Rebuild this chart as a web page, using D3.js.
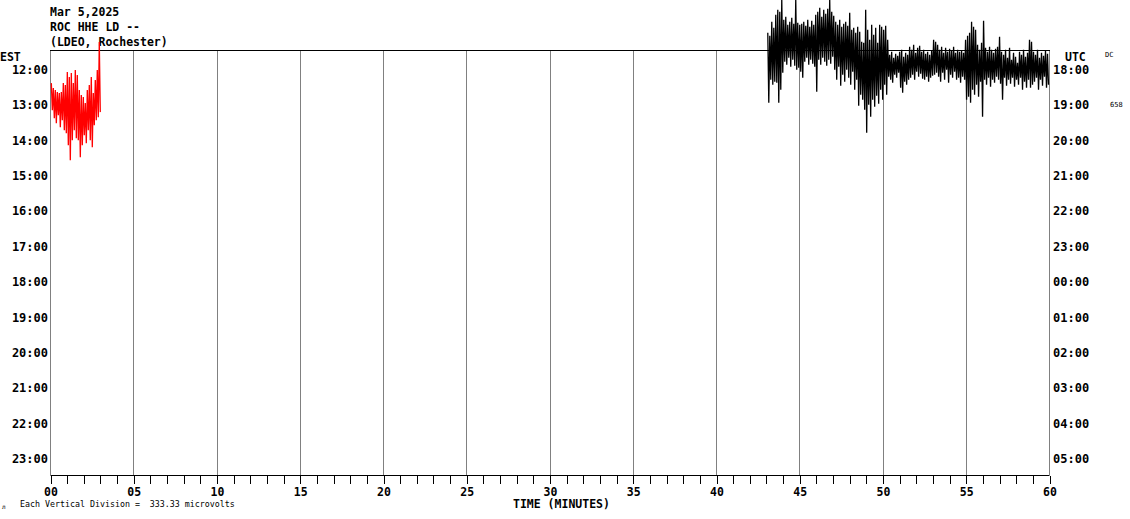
<!DOCTYPE html>
<html>
<head>
<meta charset="utf-8">
<script src="https://cdn.jsdelivr.net/npm/d3@7"></script>
<style>
  body { margin: 0; background: #fff; }
  svg { display: block; }
  text { font-family: "DejaVu Sans Mono", monospace; }
</style>
</head>
<body>
<div id="heli"></div>
<script>
// station info
const headerLines = ["Mar 5,2025", "ROC HHE LD --", "(LDEO, Rochester)"];
const estHours = ["12:00", "13:00", "14:00", "15:00", "16:00", "17:00", "18:00", "19:00", "20:00", "21:00", "22:00", "23:00"];
const utcHours = ["18:00", "19:00", "20:00", "21:00", "22:00", "23:00", "00:00", "01:00", "02:00", "03:00", "04:00", "05:00"];
const minuteTicks = ["00", "05", "10", "15", "20", "25", "30", "35", "40", "45", "50", "55", "60"];

// trace samples (counts from row baseline), 3.6 s per sample
const countsPerDivision = 354;
const sampleMinutes = 0.06;

// row 0 (12:00 EST), from 43.08 min
const trace0Row = 0;
const trace0Start = 43.08;
const trace0 = [
  350, -350, 320, -120, 460, -170, 400, -140, 530, -150, 580, -350, 560, -220, 680, -50,
  480, 60, 510, 30, 430, 100, 460, 10, 500, 80, 440, 20, 680, -20, 450, 0, 430, -40,
  440, -100, 460, 60, 420, 100, 480, 30, 410, 80, 470, 40, 430,
  10, 530, -240, 560, 80, 600, 30, 510, 100, 580, 60, 540, 20, 590, 80, 680, 40, 560, 110, 520,
  -20, 460, -120, 430, 10, 480, -180, 410, -70, 440, -140, 460, -20, 420,
  -100, 550, -170, 380, -40, 400, -220, 350, -120, 410, -380, 360, -270,
  260, -320, 250, -420, 580, -650,
  380, -370, 280, -490, 430, -320, 330, -390, 400, -280, 250, -360,
  430, -220, 410, -320, 380, -170, 420, -270, 280, -90,
  130, -120, 160, -150, 100, -70, 140, -100, 120, -50,
  160, -200, 180, -250, 110, -140, 150, -170, 130, -120,
  210, -100, 180, -70, 230, -120, 150, -40, 200, -90, 220, -60, 160, -110,
  180, -120, 140, -90, 160, -140, 130, -100, 170, -80,
  280, -70, 260, -50, 230, -90,
  180, -140, 210, -50, 150, -120, 200, -20, 160, -150, 190, -70, 170, -100, 210, -40, 150,
  -120, 180, -100, 160, -150, 170, -90, 150, -120, 280,
  -320, 320, -290, 350, -350, 460, -220, 410, -270, 380,
  -170, 230, -290, 180, -140, 250, -490, 470,
  -120, 200, -170, 160, -100, 210, -190, 180, -120, 150, -150, 190, -90, 210,
  -120, 310, -160, 160, -320, 130, -100, 180, -180, 100, -120, 200, -160, 80, -100, 150, -190, 110, -120, 50,
  -170, 160, -100, 130, -220, 180, -140, 110, -200, 150,
  -120, 280, -200, 260, -170,
  160, -140, 130, -100, 180, -220, 100, -120, 150, -180, 120, -90, 170, -200, 140, -170
];

// row 1 (13:00 EST), from 0.05 min
const trace1Row = 1;
const trace1Start = 0.05;
const trace1 = [
  200, -70, 150, -150, 130, -200, 110, -120, 100, -240, 110, -170, 200, -270, 180, -300,
  310, -420, 260, -570, 300, -370, 200, -270, 330, -350, 280, -370, 130, -540, 80, -420,
  60, -320, 0, -400, 130, -270, 180, -370, 260, -440, 100, -220, 230, -170, 330, -140, 610, -90
];

const W = 1130, H = 519;
const plotLeft = 50, plotRight = 1049, plotTop = 50, plotBottom = 475;

const svg = d3.select("#heli").append("svg")
  .attr("width", W)
  .attr("height", H);

const x = d3.scaleLinear().domain([0, 60]).range([plotLeft + 0.5, plotRight + 0.5]);
const row = d3.scaleLinear().domain([0, estHours.length]).range([plotTop, plotBottom]);
const rowHeight = row(1) - row(0);
const amp = d3.scaleLinear().domain([0, countsPerDivision]).range([0, rowHeight]);

// gridlines every 5 minutes
svg.append("g")
  .selectAll("line")
  .data(d3.range(0, 61, 5))
  .enter().append("line")
  .attr("x1", d => x(d)).attr("x2", d => x(d))
  .attr("y1", plotTop).attr("y2", plotBottom)
  .attr("stroke", "#808080")
  .attr("shape-rendering", "crispEdges");

// bottom axis
const axis = svg.append("g")
  .attr("transform", "translate(0," + (plotBottom + 0.5) + ")")
  .call(d3.axisBottom(x)
    .tickValues(d3.range(0, 61, 1))
    .tickSize(8)
    .tickFormat(d => d % 5 === 0 ? minuteTicks[d / 5] : ""));
axis.attr("font-family", null).attr("font-size", null);
axis.select(".domain").attr("stroke", "#000").attr("d", "M" + x(0) + ",0H" + x(60));
axis.selectAll(".tick line").attr("stroke", "#000").attr("shape-rendering", "crispEdges");
axis.selectAll(".tick text")
  .attr("y", 12)
  .attr("font-size", "11.5px")
  .attr("font-weight", "bold")
  .attr("fill", "#000");

// top line
svg.append("line")
  .attr("x1", plotLeft).attr("x2", plotRight + 1)
  .attr("y1", plotTop + 0.5).attr("y2", plotTop + 0.5)
  .attr("stroke", "#000")
  .attr("shape-rendering", "crispEdges");

// hour labels
svg.append("g").selectAll("text")
  .data(estHours)
  .enter().append("text")
  .attr("x", plotLeft - 2)
  .attr("y", (d, i) => row(i + 0.5) + 6)
  .attr("text-anchor", "end")
  .attr("font-size", "12px")
  .attr("font-weight", "bold")
  .text(d => d);

svg.append("g").selectAll("text")
  .data(utcHours)
  .enter().append("text")
  .attr("x", plotRight + 4)
  .attr("y", (d, i) => row(i + 0.5) + 6)
  .attr("font-size", "12px")
  .attr("font-weight", "bold")
  .text(d => d);

svg.append("text").attr("x", 0).attr("y", 61)
  .attr("font-size", "11.5px").attr("font-weight", "bold").text("EST");
svg.append("text").attr("x", 1065).attr("y", 61)
  .attr("font-size", "11.5px").attr("font-weight", "bold").text("UTC");
svg.append("text").attr("x", 1105).attr("y", 57)
  .attr("font-size", "7px").attr("fill", "#000").text("DC");
svg.append("text").attr("x", 1110).attr("y", 107)
  .attr("font-size", "7px").attr("fill", "#000").text("658");

// header
svg.append("g").selectAll("text")
  .data(headerLines)
  .enter().append("text")
  .attr("x", plotLeft)
  .attr("y", (d, i) => 16 + i * 15)
  .attr("font-size", "11.5px")
  .attr("font-weight", "bold")
  .text(d => d);

// footer
svg.append("text").attr("x", 513).attr("y", 508)
  .attr("font-size", "11.5px").attr("font-weight", "bold").text("TIME (MINUTES)");
svg.append("text").attr("x", 20).attr("y", 507)
  .attr("font-size", "8.3px")
  .style("white-space", "pre")
  .text("Each Vertical Division =  333.33 microvolts");
svg.append("text").attr("x", 2).attr("y", 509)
  .attr("font-size", "6px").text("\u043b");

// traces
function drawTrace(values, rowIndex, startMin, color) {
  const base = row(rowIndex + 0.5);
  const line = d3.line()
    .x((d, i) => x(startMin + i * sampleMinutes))
    .y(d => base - amp(d));
  svg.append("path")
    .datum(values)
    .attr("d", line)
    .attr("fill", "none")
    .attr("stroke", color)
    .attr("stroke-width", 1.3)
    .attr("stroke-linejoin", "bevel");
}

drawTrace(trace0, trace0Row, trace0Start, "#000");
drawTrace(trace1, trace1Row, trace1Start, "#ff0000");
</script>
</body>
</html>
